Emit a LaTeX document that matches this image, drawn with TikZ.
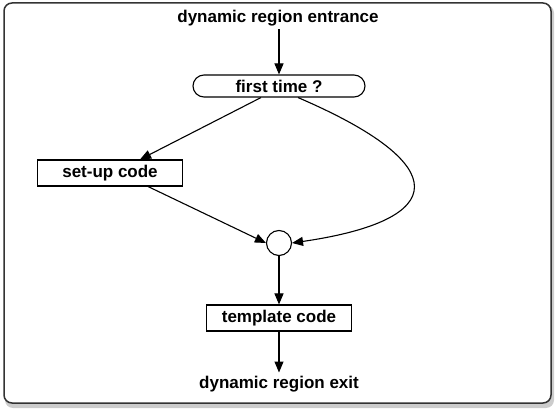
\documentclass[tikz,border=0pt]{standalone}
\usepackage{fontspec}
\setmainfont{Liberation Sans}
\usetikzlibrary{arrows.meta,shapes.misc,calc}
\begin{document}
\begin{tikzpicture}[x=1pt,y=-1pt,
  every node/.style={font=\fontsize{17}{20}\selectfont\bfseries},
  flow/.style={line width=1.1pt,-{Triangle[length=11pt,width=9pt]}},
  codebox/.style={draw,line width=1.1pt,minimum width=145pt,minimum height=26pt,inner sep=0pt},
  test/.style={draw,line width=1.1pt,rounded rectangle,minimum width=172pt,minimum height=22pt,inner sep=0pt},
  joint/.style={draw,line width=1.1pt,circle,minimum size=25pt,inner sep=0pt}]
  \useasboundingbox (0,0) rectangle (555,409);
  % framed panel with a soft shadow
  \fill[black!35,rounded corners=8pt] (6,6) rectangle (553,407);
  \fill[black!20,rounded corners=8pt] (5,5) rectangle (554,408);
  \filldraw[fill=white,draw=black!80,line width=1.5pt,rounded corners=8pt] (4,3) rectangle (551,403);

  \node (entry) at (278,18) {dynamic region entrance};
  \node[test] (first) at (279,86) {first time ?};
  \node[codebox] (setup) at (110,173) {set-up code};
  \node[joint] (join) at (279,243) {};
  \node[codebox] (tmpl) at (279,318) {template code};
  \node (exit) at (279,384) {dynamic region exit};

  % attachment points along the box edges
  \coordinate (fa) at ($(first.south west)+(57,0)$);
  \coordinate (fb) at ($(first.south east)+(-56,0)$);
  \coordinate (sa) at ($(setup.north east)+(-43,0)$);
  \coordinate (sb) at ($(setup.south east)+(-35,0)$);

  \draw[flow] (entry.south -| first.north) -- (first.north);
  \draw[flow] (fa) -- (sa);
  \draw[flow] (sb) -- (join.west);
  \draw[flow] (fb) .. controls (455,165) and (450,220) .. (join.east);
  \draw[flow] (join) -- (tmpl);
  \draw[flow] (tmpl) -- (exit);
\end{tikzpicture}
\end{document}
